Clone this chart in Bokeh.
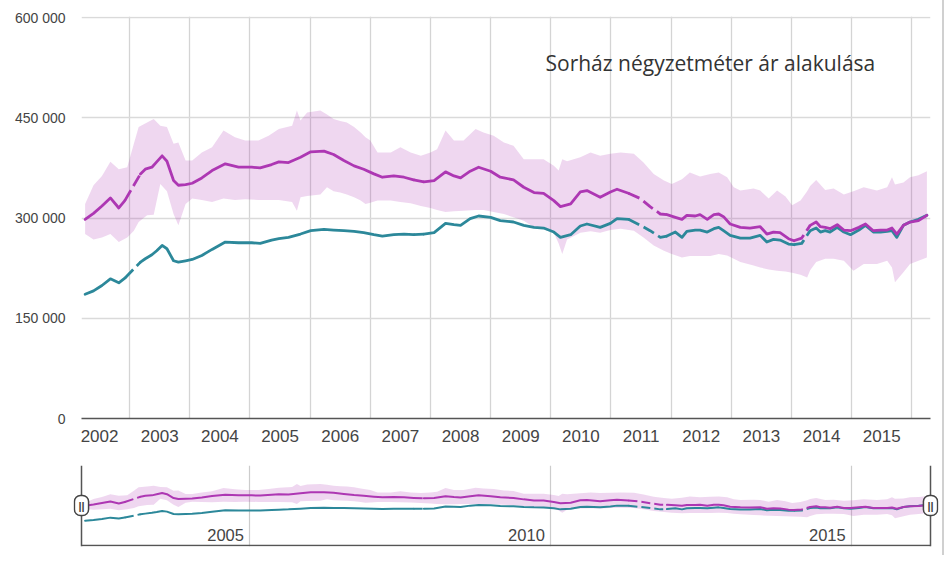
from bokeh.plotting import figure
from bokeh.models import Range1d, FixedTicker, Label, Span
from bokeh.layouts import column, row
from bokeh.embed import file_html
from bokeh.resources import INLINE
from bokeh.core.properties import value

# ---------------- data (values in thousands HUF) ----------------
line_years = [2002.26, 2002.40, 2002.54, 2002.68, 2002.82, 2002.92, 2003.18, 2003.26, 2003.37, 2003.45,
              2003.54, 2003.62, 2003.73, 2003.81, 2003.93, 2004.04, 2004.20, 2004.37, 2004.59, 2004.81,
              2005.03, 2005.17, 2005.36, 2005.48, 2005.64, 2005.84, 2006.01, 2006.23, 2006.39, 2006.56,
              2006.73, 2006.89, 2007.06, 2007.20, 2007.39, 2007.56, 2007.72, 2007.89, 2008.06, 2008.25,
              2008.39, 2008.50, 2008.66, 2008.80, 2009.00, 2009.16, 2009.38, 2009.55, 2009.72, 2009.88,
              2010.05, 2010.16, 2010.33, 2010.49, 2010.60, 2010.82, 2010.99, 2011.10, 2011.29, 2011.49,
              2011.65, 2011.82, 2011.93, 2012.07, 2012.18, 2012.26, 2012.40, 2012.48, 2012.60, 2012.71,
              2012.79, 2012.87, 2012.98, 2013.15, 2013.31, 2013.48, 2013.59, 2013.70, 2013.81, 2013.95,
              2014.04, 2014.17, 2014.31, 2014.41, 2014.48, 2014.56, 2014.64, 2014.76, 2014.87, 2014.98,
              2015.12, 2015.23, 2015.36, 2015.48, 2015.59, 2015.67, 2015.75, 2015.86, 2015.97, 2016.11,
              2016.25]
magenta_k = [298, 307, 318, 330, 315, 326, 366, 373, 376, 384,
             393, 385, 356, 349, 350, 352, 360, 371, 381, 376,
             376, 375, 380, 384, 383, 391, 399, 400, 395, 386,
             378, 373, 366, 361, 363, 361, 357, 354, 356, 369,
             363, 360, 370, 376, 370, 361, 357, 346, 338, 337,
             326, 317, 321, 339, 341, 331, 339, 343, 337, 329,
             317, 306, 305, 301, 298, 304, 303, 305, 298, 305,
             306, 302, 291, 286, 285, 287, 276, 279, 278, 269,
             266, 270, 289, 294, 287, 286, 284, 290, 282, 281,
             286, 291, 281, 282, 282, 285, 276, 289, 294, 296,
             304]
teal_k = [186, 191, 199, 209, 203, 210, 234, 239, 245, 251,
          259, 254, 236, 234, 236, 238, 244, 253, 264, 263,
          263, 262, 267, 269, 271, 276, 281, 283, 282, 281,
          280, 278, 275, 273, 275, 276, 275, 276, 278, 292,
          290, 289, 299, 303, 301, 296, 294, 289, 286, 285,
          279, 271, 275, 288, 291, 286, 292, 299, 298, 289,
          281, 271, 273, 279, 271, 280, 282, 282, 279, 284,
          286, 281, 274, 270, 270, 274, 264, 268, 267, 261,
          260, 262, 281, 285, 279, 281, 279, 286, 279, 275,
          282, 289, 279, 279, 280, 281, 271, 289, 294, 298,
          304]

band_years = [2002.26, 2002.40, 2002.54, 2002.68, 2002.82, 2002.96, 2003.07, 2003.15, 2003.29, 2003.40,
              2003.51, 2003.62, 2003.73, 2003.81, 2003.93, 2004.04, 2004.20, 2004.37, 2004.56, 2004.75,
              2004.92, 2005.14, 2005.31, 2005.48, 2005.70, 2005.78, 2005.84, 2005.95, 2006.17, 2006.28,
              2006.39, 2006.50, 2006.61, 2006.73, 2006.84, 2006.92, 2007.00, 2007.12, 2007.34, 2007.50,
              2007.67, 2007.84, 2008.00, 2008.11, 2008.25, 2008.39, 2008.55, 2008.75, 2008.88, 2009.05,
              2009.22, 2009.38, 2009.55, 2009.72, 2009.88, 2010.05, 2010.13, 2010.19, 2010.27, 2010.49,
              2010.66, 2010.82, 2010.99, 2011.16, 2011.38, 2011.54, 2011.71, 2011.88, 2012.01, 2012.18,
              2012.31, 2012.48, 2012.65, 2012.79, 2012.93, 2013.04, 2013.15, 2013.37, 2013.48, 2013.62,
              2013.76, 2013.90, 2014.01, 2014.15, 2014.26, 2014.31, 2014.41, 2014.56, 2014.70, 2014.87,
              2015.03, 2015.20, 2015.42, 2015.59, 2015.67, 2015.72, 2015.86, 2015.97, 2016.11, 2016.25]
band_high_k = [321, 349, 363, 384, 373, 376, 411, 436, 443, 448,
               438, 436, 411, 413, 386, 386, 398, 406, 431, 421,
               416, 416, 423, 433, 438, 461, 446, 458, 461, 455,
               448, 445, 443, 436, 428, 421, 416, 398, 398, 406,
               398, 393, 398, 403, 431, 416, 416, 433, 428, 423,
               413, 408, 388, 388, 388, 378, 371, 388, 385, 391,
               398, 393, 396, 398, 396, 383, 366, 356, 351, 358,
               368, 362, 366, 368, 361, 346, 341, 344, 341, 329,
               341, 332, 319, 326, 340, 348, 357, 342, 344, 335,
               340, 346, 341, 346, 361, 350, 353, 361, 364, 370]
band_low_k = [276, 268, 271, 276, 264, 271, 281, 294, 304, 305,
              351, 340, 306, 289, 321, 329, 327, 324, 329, 327,
              328, 327, 327, 327, 324, 311, 331, 333, 335, 346,
              340, 338, 335, 331, 326, 321, 323, 326, 326, 324,
              322, 318, 315, 312, 309, 310, 311, 312, 312, 309,
              306, 301, 296, 286, 283, 278, 262, 246, 268, 278,
              280, 278, 282, 284, 281, 271, 259, 251, 246, 241,
              243, 243, 243, 246, 244, 239, 234, 229, 226, 223,
              221, 220, 218, 215, 211, 222, 234, 239, 239, 236,
              221, 231, 231, 236, 226, 204, 219, 231, 236, 241]

# periods where the series are drawn dashed (uncertain / missing data)
uncertain_spans = [(2002.92, 2003.18), (2007.72, 2007.89), (2011.29, 2011.93), (2014.04, 2014.31)]

years = list(range(2002, 2016))
y_ticks = [0, 150000, 300000, 450000, 600000]
y_tick_labels = ["0", "150 000", "300 000", "450 000", "600 000"]
nav_years = [2005, 2010, 2015]
title_text = "Sorház négyzetméter ár alakulása"

# ---------------- helpers ----------------
magenta = [v * 1000 for v in magenta_k]
teal = [v * 1000 for v in teal_k]
band_high = [v * 1000 for v in band_high_k]
band_low = [v * 1000 for v in band_low_k]

MAG = "#ad37b3"
TEAL = "#2c889a"
AXIS_FONT = "Liberation Sans"
EDGE = "#555555"


def split_runs(xs, ys):
    solid, dashed = ([], []), ([], [])
    cur, rx, ry = None, [], []
    for i in range(len(xs) - 1):
        mid = (xs[i] + xs[i + 1]) / 2
        d = any(a <= mid <= b for a, b in uncertain_spans)
        if d != cur:
            if rx:
                tgt = dashed if cur else solid
                tgt[0].append(rx)
                tgt[1].append(ry)
            rx, ry, cur = [xs[i]], [ys[i]], d
        rx.append(xs[i + 1])
        ry.append(ys[i + 1])
    if rx:
        tgt = dashed if cur else solid
        tgt[0].append(rx)
        tgt[1].append(ry)
    return solid, dashed


def draw_series(p, lw, dash):
    p.varea(x=band_years, y1=band_low, y2=band_high, fill_color=MAG, fill_alpha=0.2)
    for vals, col in ((teal, TEAL), (magenta, MAG)):
        solid, dashed = split_runs(line_years, vals)
        p.multi_line(xs=solid[0], ys=solid[1], line_color=col, line_width=lw,
                     line_join="round", line_cap="round")
        p.multi_line(xs=dashed[0], ys=dashed[1], line_color=col, line_width=lw,
                     line_dash=dash, line_join="round")


def bare_axis(ax):
    ax.ticker = FixedTicker(ticks=[])
    ax.major_tick_out = 0
    ax.major_tick_in = 0
    ax.minor_tick_out = 0
    ax.minor_tick_in = 0
    ax.major_label_standoff = 0
    ax.axis_line_color = None


X0, X1 = 2002.2, 2016.31
PX_PER_YEAR = 849 / (X1 - X0)

# ---------------- main chart ----------------
p = figure(width=942, height=455, output_backend="svg", toolbar_location=None,
           x_range=Range1d(X0, X1), y_range=Range1d(0, 601500),
           min_border_left=81, min_border_right=12, min_border_top=16, min_border_bottom=37)
p.outline_line_color = None
p.background_fill_color = "white"
p.border_fill_color = "white"

draw_series(p, 2.8, "12 5")

p.xaxis.ticker = FixedTicker(ticks=[y + 0.5 for y in years])
p.xaxis.major_label_overrides = {y + 0.5: str(y) for y in years}
p.xaxis.major_tick_out = 0
p.xaxis.major_tick_in = 0
p.xaxis.minor_tick_out = 0
p.xaxis.minor_tick_in = 0
p.xaxis.axis_line_color = EDGE
p.xaxis.axis_line_width = 1.5
p.xaxis.major_label_standoff = 11
p.xaxis.major_label_text_font = AXIS_FONT
p.xaxis.major_label_text_font_size = "17px"
p.xaxis.major_label_text_color = "#444444"

p.yaxis.ticker = FixedTicker(ticks=y_ticks)
p.yaxis.major_label_overrides = dict(zip(y_ticks, y_tick_labels))
p.yaxis.axis_line_color = None
p.yaxis.major_tick_out = 0
p.yaxis.major_tick_in = 0
p.yaxis.minor_tick_out = 0
p.yaxis.minor_tick_in = 0
p.yaxis.major_label_standoff = 16
p.yaxis.major_label_text_font = AXIS_FONT
p.yaxis.major_label_text_font_size = "14px"
p.yaxis.major_label_text_color = "#444444"

p.xgrid.ticker = FixedTicker(ticks=[y + 1 for y in years])
p.xgrid.grid_line_color = "#d4d4d4"
p.xgrid.grid_line_width = 1.3
p.ygrid.grid_line_color = "#dadada"
p.ygrid.grid_line_width = 1.5

p.add_layout(Label(x=464, y=356, x_units="screen", y_units="screen", text=title_text,
                   text_font="Open Sans", text_font_size="21px", text_color="#333333",
                   text_baseline="middle", text_align="left"))

# ---------------- navigator ----------------
pad = 8 / PX_PER_YEAR
n = figure(width=942, height=100, output_backend="svg", toolbar_location=None,
           x_range=Range1d(X0 - pad, X1 + pad), y_range=Range1d(-7500, 600000),
           min_border_left=73, min_border_right=4, min_border_top=10, min_border_bottom=9)
n.outline_line_color = None
n.background_fill_color = "white"
n.border_fill_color = "white"

n.xgrid.ticker = FixedTicker(ticks=nav_years)
n.xgrid.grid_line_color = "#cccccc"
n.xgrid.grid_line_width = 1.2
n.ygrid.grid_line_color = None
bare_axis(n.xaxis)
bare_axis(n.yaxis)

draw_series(n, 2.0, "9 4")

n.text(x=nav_years, y=[0] * len(nav_years), text=[str(y) for y in nav_years],
       x_offset=-6, y_offset=-11, text_align="right", text_baseline="alphabetic",
       text_font=value(AXIS_FONT), text_font_size="16.5px", text_color="#444444")

# navigator frame edges
n.add_layout(Span(location=X0, dimension="height", line_color=EDGE, line_width=1.5))
n.add_layout(Span(location=X1, dimension="height", line_color=EDGE, line_width=1.5))
n.segment(x0=[X0], y0=[0], x1=[X1], y1=[0], line_color=EDGE, line_width=1.5)

# range handles
for hx in (X0, X1):
    n.add_layout(Label(x=hx, y=41, x_units="data", y_units="screen", text="||",
                       text_font=AXIS_FONT, text_font_size="11px", text_font_style="bold",
                       text_color="#444444", text_align="center", text_baseline="middle",
                       background_fill_color="white", border_line_color="#444444",
                       border_line_width=1.5, border_radius=6, padding=4))

layout = column(p, row(n), styles={"border-right": "2px solid #d0d0d0"})

open("out.html", "w").write(file_html(layout, INLINE))
